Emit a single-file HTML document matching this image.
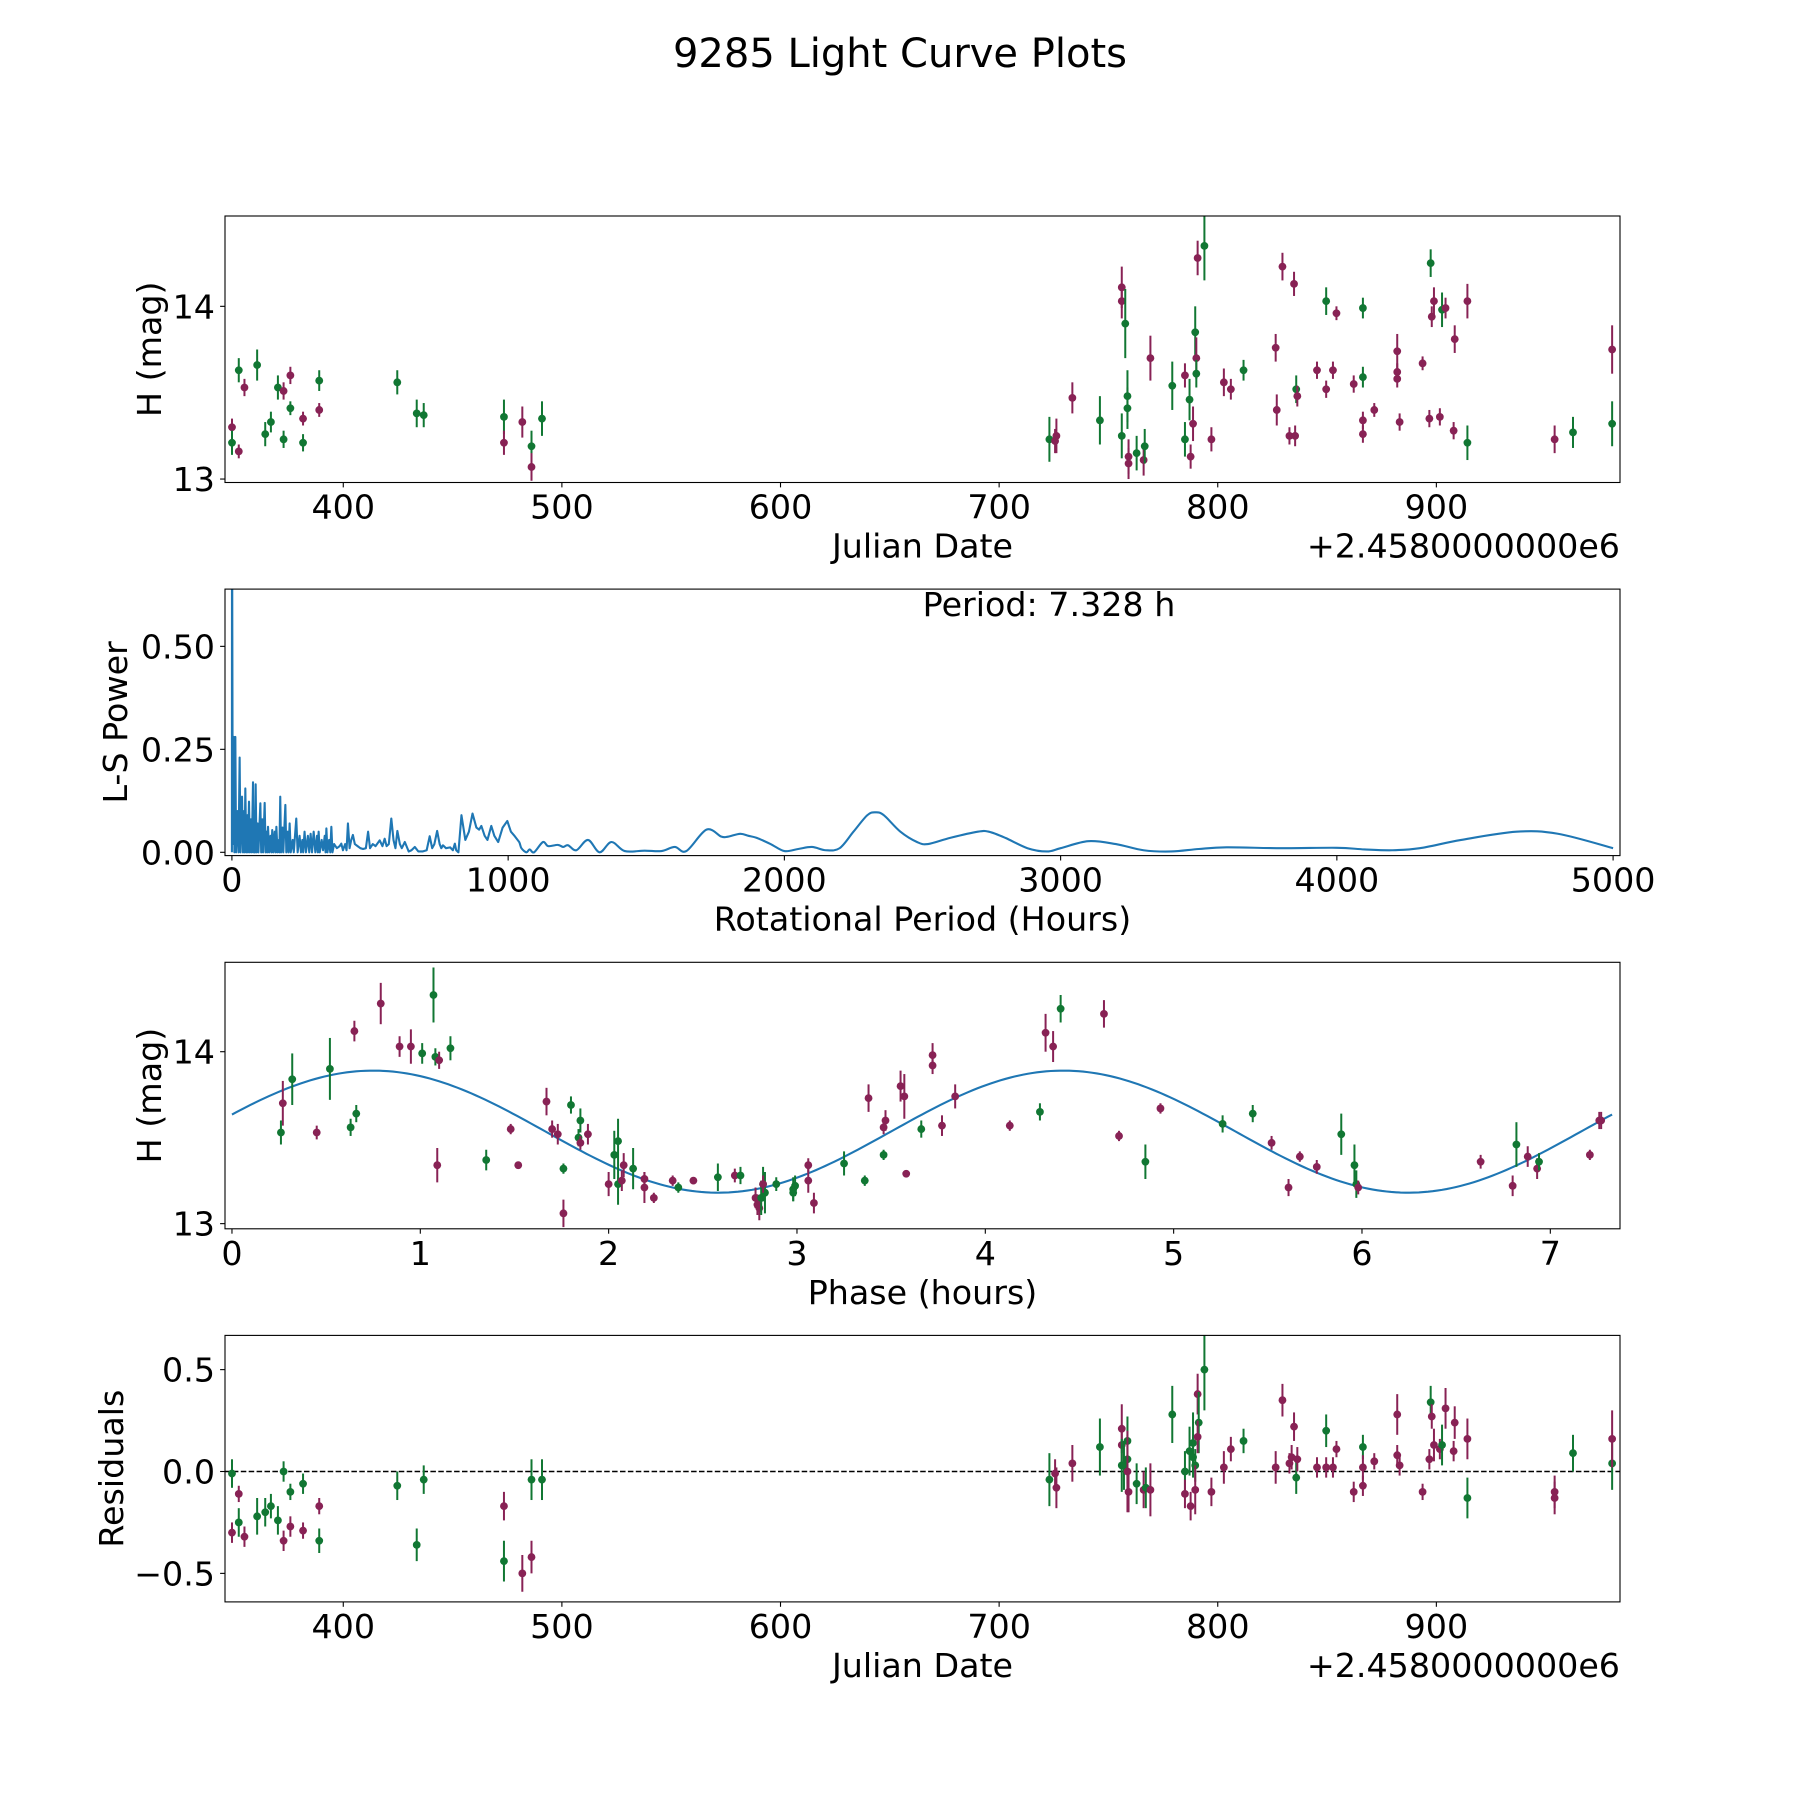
<!DOCTYPE html>
<html><head><meta charset="utf-8"><style>
html,body{margin:0;padding:0;background:#fff;}
svg{display:block;font-family:"DejaVu Sans","Liberation Sans",sans-serif;}
</style></head><body>
<svg id="fig" width="1800" height="1800" viewBox="0 0 1800 1800">
<rect width="1800" height="1800" fill="#fff"/>
<text x="900" y="67" text-anchor="middle" font-size="40" fill="#000">9285 Light Curve Plots</text>
</svg>
<script>
// ---------- data: light curve (panel 1) ----------
const lcJD  = [349.1,349.1,352.2,352.2,354.8,360.6,364.3,366.9,370.1,372.7,372.7,375.8,375.8,381.6,381.6,389.0,389.0,424.7,433.6,436.8,473.5,473.5,481.9,486.1,486.1,490.9,723.0,725.6,726.2,733.5,746.1,756.1,756.1,756.1,757.7,758.7,758.7,759.2,759.2,762.9,766.1,766.6,769.2,779.2,785.0,785.0,787.1,787.6,788.7,789.7,790.2,790.2,790.8,793.9,797.1,802.8,806.0,811.8,826.5,827.0,829.6,832.8,834.9,835.9,836.4,835.4,845.4,849.6,849.6,852.7,854.3,862.2,866.4,866.4,866.4,866.4,871.6,882.1,882.1,882.1,883.2,893.7,897.4,897.9,898.9,896.8,901.6,902.6,904.2,908.4,907.9,914.2,914.2,954.1,962.5,980.4,980.4];
const lcMag = [13.30,13.21,13.63,13.16,13.53,13.66,13.26,13.33,13.53,13.51,13.23,13.60,13.41,13.35,13.21,13.57,13.40,13.56,13.38,13.37,13.36,13.21,13.33,13.19,13.07,13.35,13.23,13.22,13.25,13.47,13.34,14.11,14.03,13.25,13.90,13.48,13.41,13.13,13.09,13.15,13.11,13.19,13.70,13.54,13.60,13.23,13.46,13.13,13.32,13.85,13.70,13.61,14.28,14.35,13.23,13.56,13.52,13.63,13.76,13.40,14.23,13.25,14.13,13.52,13.48,13.25,13.63,14.03,13.52,13.63,13.96,13.55,13.99,13.59,13.34,13.26,13.40,13.74,13.62,13.58,13.33,13.67,14.25,13.94,14.03,13.35,13.36,13.98,13.99,13.81,13.28,14.03,13.21,13.23,13.27,13.75,13.32];
const lcErr = [0.05,0.07,0.07,0.04,0.05,0.09,0.07,0.06,0.07,0.05,0.05,0.05,0.04,0.04,0.05,0.06,0.04,0.07,0.08,0.07,0.10,0.07,0.09,0.09,0.08,0.10,0.13,0.07,0.10,0.09,0.14,0.12,0.10,0.13,0.20,0.15,0.12,0.10,0.09,0.10,0.09,0.10,0.13,0.14,0.07,0.10,0.12,0.07,0.10,0.15,0.12,0.08,0.10,0.20,0.07,0.08,0.06,0.06,0.08,0.09,0.08,0.05,0.07,0.08,0.06,0.06,0.05,0.08,0.05,0.05,0.04,0.05,0.06,0.06,0.05,0.05,0.04,0.10,0.05,0.05,0.05,0.04,0.08,0.06,0.08,0.05,0.05,0.10,0.06,0.08,0.05,0.10,0.10,0.08,0.09,0.14,0.13];
const lcCol = "mggmmggggm"+"gmgmggmggg"+"gmmgmggmmm"+"gmmggggmmg"+"mgmgmggmmg"+"mgmgmmmgmm"+"mmmgmmmgmm"+"mmggmmmmmm"+"mmgmmmmgmm"+"mmgmgmg";

// ---------- data: periodogram (panel 2) ----------
const perHours = [0,0.4,3,6.4,9,12.4,15,20,24,28,31,36.6,40,44,46,48.6,52,56,58,61.9,65,69,72,76.4,79,82,84,86,89,93,96,103,106,110,113,118.6,122,126,128,130.7,135,140,143,146,150,155,158,161,165,170,172,175,178,183,186,193.5,197,202,205,209,213,220,224,233,238,245,250,255,258,263,268,275,280,285,290,296,302,308,311,314,318,325,330,336,339,342,346,352,356,360,364,370,380,390,396,402,410,415,420,426,432,438,445,455,465,475,485,493,500,510,520,535,545,553,560,568,577,585,592,599,608,615,626,640,650,662,675,690,705,716,725,733,743,752,758,764,775,790,800,807,812,820,831,845,858,871,885,895,903,915,925,939,950,964,980,997,1010,1024,1040,1048,1066,1078,1094,1126,1145,1180,1199,1217,1247,1289,1331,1374,1422,1494,1555,1603,1645,1718,1772,1796,1840,1870,1900,1950,2000,2050,2100,2150,2200,2250,2300,2330,2360,2420,2480,2520,2600,2700,2740,2800,2880,2950,3000,3100,3200,3300,3400,3500,3600,3800,4000,4100,4200,4300,4450,4650,4800,5000];
const perPower = [0,0.9,0.02,0.28,0.0,0.28,0.0,0.10,0.0,0.23,0.0,0.135,0.0,0.10,0.0,0.155,0.0,0.09,0.0,0.123,0.0,0.08,0.0,0.17,0.0,0.10,0.0,0.165,0.0,0.07,0.0,0.119,0.0,0.08,0.0,0.12,0.0,0.05,0.0,0.062,0.0,0.04,0.0,0.054,0.0,0.05,0.0,0.062,0.0,0.03,0.0,0.135,0.0,0.06,0.0,0.115,0.0,0.05,0.0,0.07,0.0,0.03,0.0,0.082,0.0,0.04,0.0,0.03,0.0,0.05,0.0,0.04,0.0,0.045,0.0,0.05,0.0,0.04,0.0,0.05,0.0,0.03,0.005,0.04,0.0,0.058,0.0,0.03,0.0,0.062,0.0,0.02,0.01,0.015,0.021,0.005,0.02,0.005,0.07,0.01,0.03,0.042,0.02,0.015,0.01,0.008,0.01,0.05,0.01,0.02,0.015,0.029,0.015,0.033,0.015,0.02,0.082,0.03,0.01,0.052,0.02,0.01,0.025,0.002,0.005,0.013,0.002,0.002,0.005,0.039,0.01,0.02,0.052,0.02,0.01,0.017,0.01,0.012,0.005,0.021,0.005,0.0,0.09,0.03,0.05,0.094,0.06,0.055,0.064,0.04,0.03,0.064,0.04,0.025,0.06,0.076,0.05,0.039,0.025,0.01,0.0,0.007,0.0,0.025,0.015,0.018,0.013,0.017,0.005,0.03,0.0,0.025,0.003,0.004,0.003,0.013,0.003,0.055,0.038,0.038,0.045,0.04,0.035,0.02,0.003,0.008,0.013,0.005,0.01,0.05,0.09,0.097,0.09,0.05,0.025,0.02,0.035,0.05,0.05,0.035,0.01,0.002,0.01,0.027,0.02,0.005,0.002,0.008,0.012,0.01,0.011,0.007,0.005,0.01,0.03,0.05,0.045,0.01];
const periodText = "Period: 7.328 h";

// ---------- data: phased curve (panel 3) ----------
const phHours = [0.27,0.26,0.32,0.45,0.52,0.63,0.66,0.65,0.79,0.89,0.95,1.01,1.07,1.08,1.10,1.16,1.09,1.35,1.52,1.48,1.67,1.70,1.73,1.76,1.76,1.80,1.85,1.84,1.85,1.89,2.00,2.03,2.05,2.05,2.07,2.08,2.13,2.19,2.19,2.24,2.34,2.37,2.45,2.58,2.67,2.70,2.78,2.79,2.80,2.81,2.82,2.83,2.82,2.89,2.98,2.99,2.98,3.06,3.06,3.09,3.25,3.36,3.38,3.46,3.47,3.46,3.55,3.57,3.58,3.66,3.72,3.72,3.77,3.84,4.13,4.29,4.32,4.36,4.40,4.63,4.71,4.85,4.93,5.26,5.42,5.52,5.61,5.67,5.76,5.89,5.96,5.97,5.98,6.63,6.80,6.82,6.88,6.93,6.94,7.21,7.26,7.27];
const phMag = [13.70,13.53,13.84,13.53,13.90,13.56,13.64,14.12,14.28,14.03,14.03,13.99,14.33,13.97,13.95,14.02,13.34,13.37,13.34,13.55,13.71,13.55,13.52,13.06,13.32,13.69,13.60,13.50,13.47,13.52,13.23,13.40,13.48,13.23,13.25,13.34,13.32,13.21,13.26,13.15,13.25,13.21,13.25,13.27,13.28,13.28,13.15,13.11,13.09,13.15,13.23,13.18,13.23,13.23,13.20,13.22,13.18,13.34,13.25,13.12,13.35,13.25,13.73,13.40,13.60,13.56,13.80,13.74,13.29,13.55,13.98,13.92,13.57,13.74,13.57,13.65,14.11,14.03,14.25,14.22,13.51,13.36,13.67,13.58,13.64,13.47,13.21,13.39,13.33,13.52,13.34,13.23,13.21,13.36,13.22,13.46,13.39,13.32,13.36,13.40,13.60,13.60];
const phErr = [0.13,0.07,0.15,0.04,0.18,0.05,0.05,0.06,0.12,0.06,0.10,0.06,0.16,0.05,0.05,0.07,0.10,0.06,0.02,0.03,0.08,0.05,0.06,0.08,0.03,0.05,0.07,0.05,0.04,0.06,0.07,0.14,0.13,0.12,0.06,0.07,0.12,0.09,0.04,0.03,0.03,0.03,0.02,0.08,0.04,0.05,0.06,0.06,0.07,0.10,0.10,0.12,0.05,0.04,0.07,0.06,0.05,0.04,0.07,0.06,0.07,0.03,0.08,0.03,0.06,0.04,0.09,0.13,0.02,0.05,0.07,0.05,0.06,0.07,0.03,0.05,0.11,0.09,0.08,0.08,0.03,0.10,0.03,0.05,0.05,0.04,0.05,0.03,0.04,0.12,0.12,0.08,0.04,0.04,0.06,0.13,0.06,0.06,0.05,0.03,0.05,0.05];
const phCol = "mggmgggmmm"+"mgggmgmgmm"+"mmmmggggmm"+"mgggmmgmmm"+"mgmgmgmmmg"+"ggmggggmmm"+"ggmgmmmmmg"+"mmmmmgmmgm"+"mgmggmmmmg"+"ggmmmgmmgmmm";
// fitted model: [mean, amplitude, peak phase, half period]
const fitMean = [13.535];
const fitAmp = [0.355];
const fitPeak = [0.75];
const fitHalfPeriod = [3.664];

// ---------- data: residuals (panel 4) ----------
const rsJD = [349.1,349.1,352.2,352.2,354.8,360.6,364.3,366.9,370.1,372.7,372.7,375.8,375.8,381.6,381.6,389.0,389.0,424.7,433.6,436.8,473.5,473.5,481.9,486.1,486.1,490.9,723.0,725.6,726.2,733.5,746.1,756.1,756.1,756.1,757.1,758.7,758.7,758.7,759.2,762.9,766.1,767.1,769.2,779.2,785.0,785.0,787.1,787.6,788.7,788.7,789.7,789.7,790.8,791.3,790.8,793.9,797.1,802.8,806.0,811.8,826.5,829.6,832.8,833.8,834.9,835.9,836.4,845.4,849.6,849.6,852.7,854.3,862.2,866.4,866.4,866.4,871.6,882.1,882.1,883.2,893.7,897.4,897.9,898.9,896.8,901.6,902.6,904.2,908.4,907.9,914.2,914.2,954.1,954.1,962.5,980.4,980.4];
const rsVal = [-0.30,-0.01,-0.11,-0.25,-0.32,-0.22,-0.20,-0.17,-0.24,0.00,-0.34,-0.10,-0.27,-0.06,-0.29,-0.17,-0.34,-0.07,-0.36,-0.04,-0.44,-0.17,-0.50,-0.04,-0.42,-0.04,-0.04,-0.01,-0.08,0.04,0.12,0.21,0.13,0.03,0.03,0.15,0.06,0.0,-0.10,-0.06,-0.09,-0.08,-0.09,0.28,0.0,-0.11,0.10,-0.17,0.14,0.07,0.03,-0.09,0.38,0.24,0.17,0.50,-0.10,0.02,0.11,0.15,0.02,0.35,0.04,0.07,0.22,-0.03,0.06,0.02,0.20,0.02,0.02,0.11,-0.10,0.12,0.02,-0.07,0.05,0.28,0.08,0.03,-0.10,0.34,0.27,0.13,0.06,0.11,0.13,0.31,0.24,0.10,0.16,-0.13,-0.10,-0.13,0.09,0.04,0.16];
const rsErr = [0.05,0.07,0.04,0.07,0.05,0.09,0.07,0.06,0.07,0.05,0.05,0.04,0.05,0.05,0.04,0.04,0.06,0.07,0.08,0.07,0.10,0.07,0.09,0.10,0.08,0.10,0.13,0.07,0.10,0.09,0.14,0.12,0.10,0.13,0.12,0.12,0.12,0.20,0.10,0.10,0.09,0.10,0.13,0.14,0.10,0.07,0.12,0.07,0.15,0.10,0.08,0.12,0.10,0.15,0.08,0.20,0.07,0.08,0.06,0.06,0.08,0.08,0.05,0.06,0.07,0.08,0.06,0.05,0.08,0.05,0.05,0.04,0.05,0.06,0.06,0.05,0.04,0.10,0.05,0.05,0.04,0.08,0.06,0.08,0.05,0.05,0.10,0.10,0.08,0.05,0.10,0.10,0.08,0.08,0.09,0.13,0.14];
const rsCol = "mgmgmggggg"+"mgmgmmgggg"+"gmmgmggmmm"+"gmmggggmmg"+"mgmggmgmgg"+"gmmgmgmmmg"+"mmmmmgmmgm"+"mmmgmmmmmm"+"mgmmmmgmmm"+"mgmmggm";

// ---------- tick labels ----------
const jdTicks = [400,500,600,700,800,900];
const magTicks = [13,14];
const perXTicks = [0,1000,2000,3000,4000,5000];
const perYTicks = [0.00,0.25,0.50];
const phTicks = [0,1,2,3,4,5,6,7];
const rsTicks = [-0.5,0.0,0.5];

const NS = "http://www.w3.org/2000/svg";
const svg = document.getElementById('fig');
const COLORS = {g:'#117733', m:'#882255'};
const L = 225, R = 1620, W = R - L, H = 266.5;
const TOPS = [216, 589.1, 962.3, 1335.4];
const FS = 33.3;

function el(tag, attrs, parent){
  const e = document.createElementNS(NS, tag);
  for (const k in attrs) e.setAttribute(k, attrs[k]);
  (parent || svg).appendChild(e);
  return e;
}
function scale(d0, d1, p0, p1){ return v => p0 + (v - d0) * (p1 - p0) / (d1 - d0); }

function makeAxes(idx, xr, yr, name){
  const top = TOPS[idx], bot = top + H;
  const g = el('g', {});
  
  
  const clipId = 'clip' + idx;
  const cp = el('clipPath', {id: clipId}, g);
  el('rect', {x: L, y: top, width: W, height: H}, cp);
  const plot = el('g', {'clip-path': 'url(#' + clipId + ')'}, g);
  return {g, plot, top, bot, x: scale(xr[0], xr[1], L, R), y: scale(yr[0], yr[1], bot, top)};
}
function frame(ax, name){
  const r = el('rect', {x: L, y: ax.top, width: W, height: H, fill: 'none', stroke: '#000', 'stroke-width': 1.1}, ax.g);
  
  
}
function xTicks(ax, vals, fmt, name){
  vals.forEach(v => {
    const px = ax.x(v);
    el('line', {x1: px, x2: px, y1: ax.bot, y2: ax.bot + 4.9, stroke: '#000', 'stroke-width': 1.1}, ax.g);
    const t = el('text', {x: px, y: ax.bot + 36, 'text-anchor': 'middle', 'font-size': FS}, ax.g);
    t.textContent = fmt(v);
    
    
  });
}
function yTicks(ax, vals, fmt, name){
  vals.forEach(v => {
    const py = ax.y(v);
    el('line', {x1: L, x2: L - 4.9, y1: py, y2: py, stroke: '#000', 'stroke-width': 1.1}, ax.g);
    const t = el('text', {x: L - 10, y: py + 12, 'text-anchor': 'end', 'font-size': FS}, ax.g);
    t.textContent = fmt(v);
    
    
  });
}
function labels(ax, xl, yl, offset, xName, yName, ylx){
  const cx = (L + R) / 2;
  const t = el('text', {x: cx, y: ax.bot + 75, 'text-anchor': 'middle', 'font-size': FS}, ax.g);
  t.textContent = xl;
  
  
  const cy = ax.top + H / 2;
  const y = el('text', {x: 0, y: 0, 'text-anchor': 'middle', 'font-size': FS, transform: 'translate(' + ylx + ',' + cy + ') rotate(-90)'}, ax.g);
  y.textContent = yl;
  
  
  if (offset){
    const o = el('text', {x: R, y: ax.bot + 75, 'text-anchor': 'end', 'font-size': FS}, ax.g);
    o.textContent = offset;
    
    
  }
}
function errPoints(ax, xs, ys, es, cols, name){
  for (let i = 0; i < xs.length; i++){
    const c = COLORS[cols[i]] || COLORS.m;
    const px = ax.x(xs[i]), py = ax.y(ys[i]);
    const ln = el('line', {x1: px, x2: px, y1: ax.y(ys[i] - es[i]), y2: ax.y(ys[i] + es[i]), stroke: c, 'stroke-width': 2}, ax.plot);
    
    
    const ci = el('circle', {cx: px, cy: py, r: 3.9, fill: c}, ax.plot);
    
    
  }
}

// Panel 1
const a1 = makeAxes(0, [345.9, 984.0], [12.98, 14.523], 'light-curve-panel');
errPoints(a1, lcJD, lcMag, lcErr, lcCol, 'light-curve-point');
frame(a1, 'light-curve-frame');
xTicks(a1, jdTicks, v => String(v), 'x-tick-label');
yTicks(a1, magTicks, v => String(v), 'y-tick-label');
labels(a1, 'Julian Date', 'H (mag)', '+2.4580000000e6', 'x-axis-title', 'y-axis-title', 161);

// Panel 2
const a2 = makeAxes(1, [-25, 5025], [-0.008, 0.639], 'periodogram-panel');
const pts = perHours.map((h, i) => [a2.x(h), a2.y(perPower[i])]);
let d = 'M' + pts[0][0].toFixed(2) + ',' + pts[0][1].toFixed(2);
for (let i = 1; i < pts.length; i++){
  if (perHours[i] <= 1040){
    d += 'L' + pts[i][0].toFixed(2) + ',' + pts[i][1].toFixed(2);
  } else {
    const p0 = pts[i - 2] || pts[i - 1], p1 = pts[i - 1], p2 = pts[i], p3 = pts[i + 1] || pts[i];
    const c1x = p1[0] + (p2[0] - p0[0]) / 6, c1y = p1[1] + (p2[1] - p0[1]) / 6;
    const c2x = p2[0] - (p3[0] - p1[0]) / 6, c2y = p2[1] - (p3[1] - p1[1]) / 6;
    d += 'C' + c1x.toFixed(2) + ',' + c1y.toFixed(2) + ' ' + c2x.toFixed(2) + ',' + c2y.toFixed(2) + ' ' + p2[0].toFixed(2) + ',' + p2[1].toFixed(2);
  }
}
const pl = el('path', {d: d, fill: 'none', stroke: '#1f77b4', 'stroke-width': 2.1, 'stroke-linejoin': 'round'}, a2.plot);


frame(a2, 'periodogram-frame');
xTicks(a2, perXTicks, v => String(v), 'x-tick-label');
yTicks(a2, perYTicks, v => v.toFixed(2), 'y-tick-label');
labels(a2, 'Rotational Period (Hours)', 'L-S Power', null, 'x-axis-title', 'y-axis-title', 127);
const pt = el('text', {x: 1049, y: 616, 'text-anchor': 'middle', 'font-size': FS}, a2.g);
pt.textContent = periodText;



// Panel 3
const a3 = makeAxes(2, [-0.037, 7.37], [12.97, 14.52], 'phase-panel');
let d3 = '';
for (let i = 0; i <= 300; i++){
  const p = i * 7.328 / 300;
  const m = fitMean[0] + fitAmp[0] * Math.cos(2 * Math.PI * (p - fitPeak[0]) / fitHalfPeriod[0]);
  d3 += (i ? 'L' : 'M') + a3.x(p).toFixed(2) + ',' + a3.y(m).toFixed(2);
}
const fl = el('path', {d: d3, fill: 'none', stroke: '#1f77b4', 'stroke-width': 2.1}, a3.plot);


errPoints(a3, phHours, phMag, phErr, phCol, 'phase-point');
frame(a3, 'phase-frame');
xTicks(a3, phTicks, v => String(v), 'x-tick-label');
yTicks(a3, magTicks, v => String(v), 'y-tick-label');
labels(a3, 'Phase (hours)', 'H (mag)', null, 'x-axis-title', 'y-axis-title', 161);

// Panel 4
const a4 = makeAxes(3, [345.9, 984.0], [-0.64, 0.668], 'residuals-panel');
const zl = el('line', {x1: L, x2: R, y1: a4.y(0), y2: a4.y(0), stroke: '#000', 'stroke-width': 1.5, 'stroke-dasharray': '5.5,2.4'}, a4.plot);


errPoints(a4, rsJD, rsVal, rsErr, rsCol, 'residual-point');
frame(a4, 'residuals-frame');
xTicks(a4, jdTicks, v => String(v), 'x-tick-label');
yTicks(a4, rsTicks, v => (v < 0 ? '\u2212' + Math.abs(v).toFixed(1) : v.toFixed(1)), 'y-tick-label');
labels(a4, 'Julian Date', 'Residuals', '+2.4580000000e6', 'x-axis-title', 'y-axis-title', 123);
</script>
</body></html>
